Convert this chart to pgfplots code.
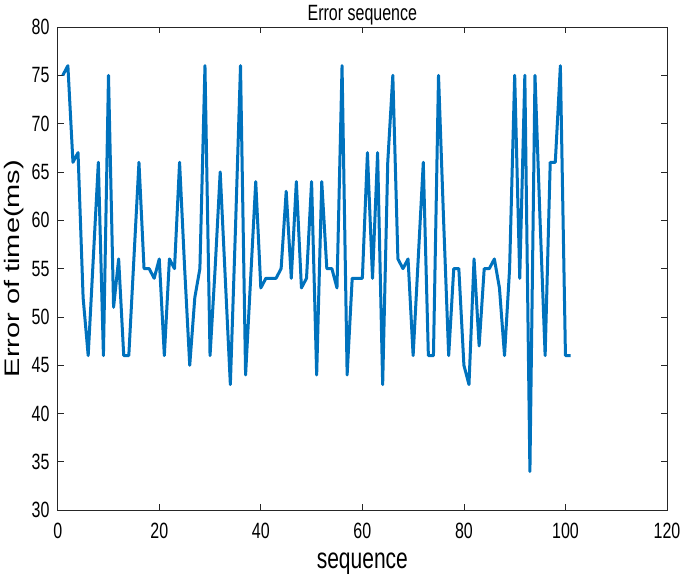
\documentclass[border=0pt]{standalone}
\usepackage{fontspec}
\setmainfont{Liberation Sans}
\usepackage{pgfplots}
\pgfplotsset{compat=1.18}
\definecolor{mblue}{HTML}{0072BD}
\definecolor{axgray}{HTML}{262626}

\begin{document}
\begin{tikzpicture}
\begin{axis}[
    scale only axis, width=609pt, height=483pt,
    xmin=0, xmax=120, ymin=30, ymax=80,
    xtick={0,20,...,120}, ytick={30,35,...,80},
    tick align=inside, major tick length=6pt,
    axis line style={axgray, line width=0.8pt},
    every tick/.style={axgray, line width=0.8pt},
    tick label style={font=\fontsize{16}{19}\selectfont, text=black, yscale=1.38},
    xticklabel style={inner sep=0pt, yshift=-9pt},
    yticklabel style={inner sep=0pt, xshift=-8pt},
    /pgf/number format/assume math mode=true,
    xlabel={sequence}, ylabel={Error of time(ms)},
    xlabel style={font=\fontsize{21}{25}\selectfont, yscale=1.38, inner sep=0pt, yshift=-10pt},
    ylabel style={font=\fontsize{21}{25}\selectfont, xscale=1.38, inner sep=0pt, yshift=8pt},
    title={Error sequence},
    title style={font=\fontsize{16}{19}\selectfont, yscale=1.38, inner sep=0pt, yshift=-3pt},
]
\addplot[mblue, line width=3pt, line join=round] coordinates {
(1,75) (2,76) (3,66) (4,67) (5,52) (6,46) (7,56) (8,66) (9,46) (10,75)
(11,51) (12,56) (13,46) (14,46) (15,56) (16,66) (17,55) (18,55) (19,54) (20,56)
(21,46) (22,56) (23,55) (24,66) (25,55) (26,45) (27,52) (28,55) (29,76) (30,46)
(31,55) (32,65) (33,54) (34,43) (35,59) (36,76) (37,44) (38,54) (39,64) (40,53)
(41,54) (42,54) (43,54) (44,55) (45,63) (46,54) (47,64) (48,53) (49,54) (50,64)
(51,44) (52,64) (53,55) (54,55) (55,53) (56,76) (57,44) (58,54) (59,54) (60,54)
(61,67) (62,54) (63,67) (64,43) (65,66) (66,75) (67,56) (68,55) (69,56) (70,46)
(71,56) (72,66) (73,46) (74,46) (75,75) (76,60) (77,46) (78,55) (79,55) (80,45)
(81,43) (82,56) (83,47) (84,55) (85,55) (86,56) (87,53) (88,46) (89,55) (90,75)
(91,54) (92,75) (93,34) (94,75) (95,60) (96,46) (97,66) (98,66) (99,76) (100,46)
(101,46)
};
\end{axis}
\pgfresetboundingbox
\path[use as bounding box] ([shift={(-57.7pt,-64pt)}]current axis.south west) rectangle ([shift={(18pt,27pt)}]current axis.north east);
\end{tikzpicture}
\end{document}
